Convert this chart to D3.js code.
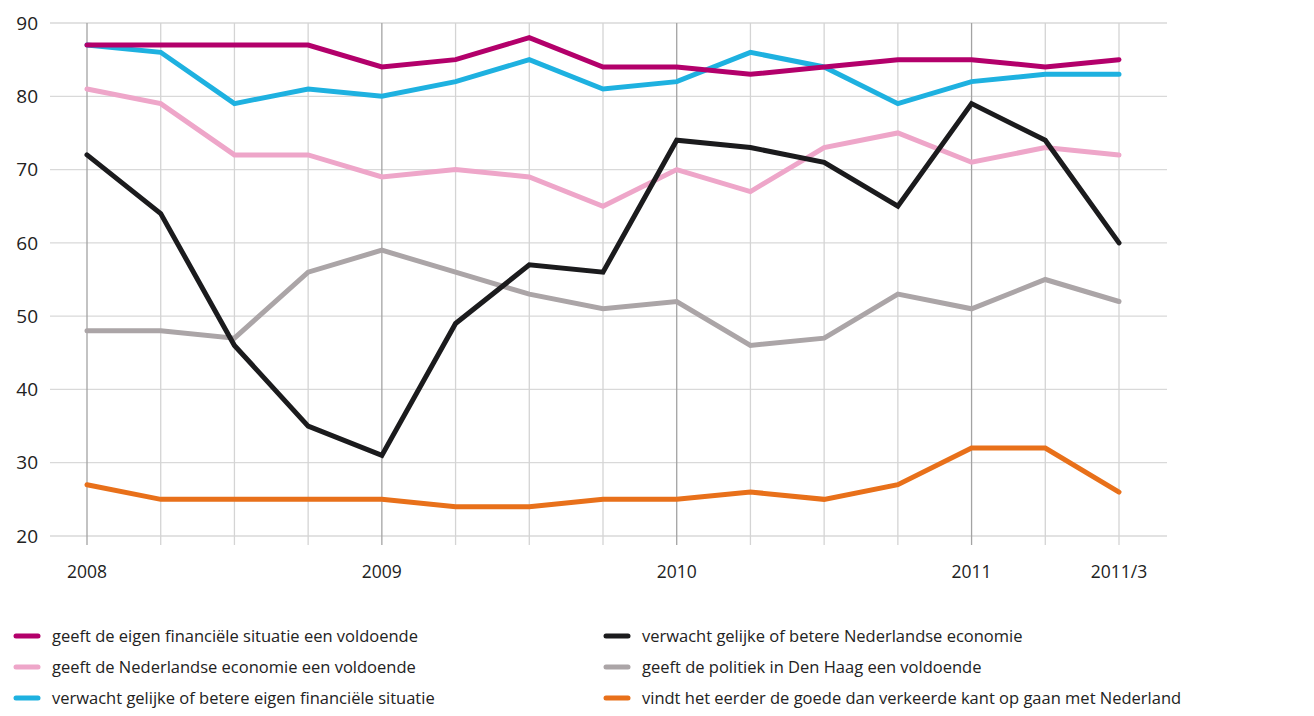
<!DOCTYPE html>
<html><head><meta charset="utf-8">
<script src="https://cdn.jsdelivr.net/npm/d3@7"></script>
<style>body{margin:0;background:#fff}svg{display:block}text{font-family:"Open Sans",sans-serif;fill:#222}</style>
</head><body><svg id="c" width="1314" height="716"></svg>
<script>
const periods = ["2008","2008/2","2008/3","2008/4","2009","2009/2","2009/3","2009/4","2010","2010/2","2010/3","2010/4","2011","2011/2","2011/3"];
const tickLabels = {"2008":"2008","2009":"2009","2010":"2010","2011":"2011","2011/3":"2011/3"};
const yTicks = [20,30,40,50,60,70,80,90];
const eigenVoldoende = [87,87,87,87,84,85,88,84,84,83,84,85,85,84,85];
const verwachtEigen = [87,86,79,81,80,82,85,81,82,86,84,79,82,83,83];
const economieVoldoende = [81,79,72,72,69,70,69,65,70,67,73,75,71,73,72];
const verwachtEconomie = [72,64,46,35,31,49,57,56,74,73,71,65,79,74,60];
const politiekVoldoende = [48,48,47,56,59,56,53,51,52,46,47,53,51,55,52];
const goedeKant = [27,25,25,25,25,24,24,25,25,26,25,27,32,32,26];

const series = [
 {name:"vindt het eerder de goede dan verkeerde kant op gaan met Nederland", values:goedeKant, color:"#e8701a"},
 {name:"geeft de politiek in Den Haag een voldoende", values:politiekVoldoende, color:"#aba5a7"},
 {name:"geeft de Nederlandse economie een voldoende", values:economieVoldoende, color:"#eea6c9"},
 {name:"verwacht gelijke of betere eigen financiële situatie", values:verwachtEigen, color:"#1eb1e0"},
 {name:"geeft de eigen financiële situatie een voldoende", values:eigenVoldoende, color:"#b3006b"},
 {name:"verwacht gelijke of betere Nederlandse economie", values:verwachtEconomie, color:"#1b1b1d"}
];
const legendOrder = [
 [4,2,3],[5,1,0]
];

const svg = d3.select("#c");
const x = d3.scalePoint().domain(periods).range([87,1119]);
const y = d3.scaleLinear().domain([20,90]).range([536,23]);

// horizontal grid
svg.append("g").selectAll("line").data(yTicks).join("line")
 .attr("x1",50).attr("x2",1167).attr("y1",d=>y(d)).attr("y2",d=>y(d))
 .attr("stroke","#d9d9d9").attr("stroke-width",1.3);
// vertical grid
svg.append("g").selectAll("line").data(periods).join("line")
 .attr("x1",d=>x(d)).attr("x2",d=>x(d)).attr("y1",y(90)).attr("y2",545)
 .attr("stroke",d=>tickLabels[d] && d!=="2011/3" ? "#a3a3a3" : "#d4d4d4").attr("stroke-width",1.3);

// y labels
svg.append("g").selectAll("text").data(yTicks).join("text")
 .attr("x",38).attr("y",d=>y(d)).attr("dy","0.35em").attr("text-anchor","end")
 .attr("font-size",19).text(d=>d);
// x labels
svg.append("g").selectAll("text").data(periods.filter(p=>tickLabels[p])).join("text")
 .attr("x",d=>x(d)).attr("y",578).attr("text-anchor","middle")
 .attr("font-size",17.5).text(d=>tickLabels[d]);

const line = d3.line().x((d,i)=>x(periods[i])).y(d=>y(d));
svg.append("g").selectAll("path").data(series).join("path")
 .attr("d",d=>line(d.values)).attr("fill","none").attr("stroke",d=>d.color)
 .attr("stroke-width",5).attr("stroke-linejoin","miter").attr("stroke-linecap","round");

// legend
const colX = [14,604], rowY = [636,667,698];
legendOrder.forEach((col,ci)=>col.forEach((si,ri)=>{
  const g = svg.append("g");
  g.append("line").attr("x1",colX[ci]+2).attr("x2",colX[ci]+24).attr("y1",rowY[ri]).attr("y2",rowY[ri])
   .attr("stroke",series[si].color).attr("stroke-width",5).attr("stroke-linecap","round");
  g.append("text").attr("x",colX[ci]+38).attr("y",rowY[ri]).attr("dy","0.35em")
   .attr("font-size",16.5).text(series[si].name);
}));
</script></body></html>
